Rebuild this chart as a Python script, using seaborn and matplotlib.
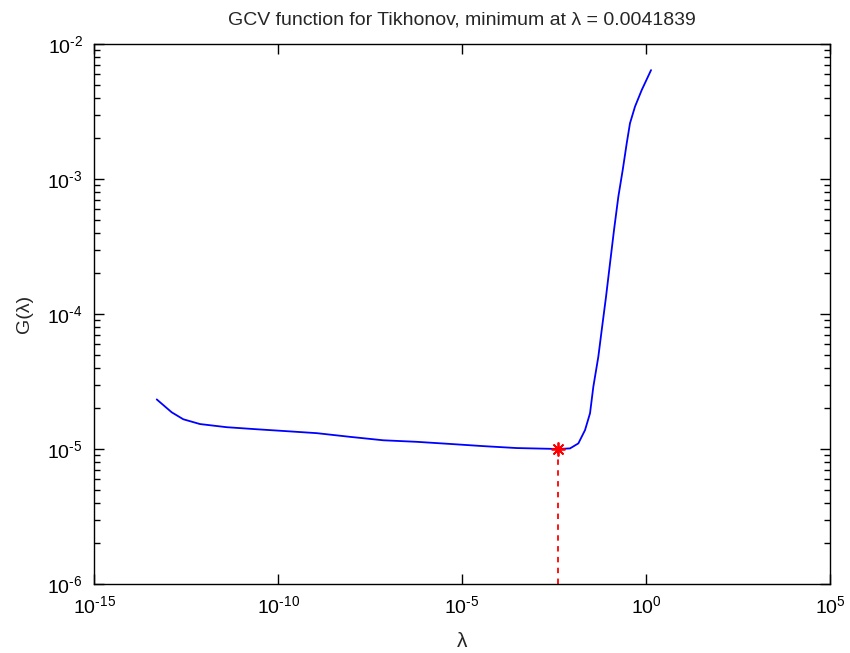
import numpy as np
import pandas as pd
import matplotlib
matplotlib.use("Agg")
import matplotlib.pyplot as plt
import matplotlib.ticker as mticker
import seaborn as sns

# GCV curve samples: regularization parameter and G(lambda)
lambdas = [5.06e-14, 1.29e-13, 2.67e-13, 7.59e-13, 4.04e-12, 2.64e-11, 1.39e-10,
           1.13e-9, 9.06e-9, 7.26e-8, 5.87e-7, 4.72e-6, 3.79e-5, 3.07e-4,
           0.0041839, 8.61e-3, 1.45e-2, 2.20e-2, 3.01e-2, 3.70e-2, 5.06e-2,
           6.25e-2, 8.18e-2, 0.105, 0.135, 0.177, 0.233, 0.299, 0.367, 0.502,
           0.764, 1.37]
gcv_values = [2.33e-5, 1.87e-5, 1.66e-5, 1.53e-5, 1.45e-5, 1.40e-5, 1.36e-5,
              1.31e-5, 1.23e-5, 1.16e-5, 1.13e-5, 1.09e-5, 1.05e-5, 1.016e-5,
              1.0e-5, 1.01e-5, 1.10e-5, 1.38e-5, 1.84e-5, 2.89e-5, 4.83e-5,
              7.60e-5, 1.34e-4, 2.37e-4, 4.19e-4, 7.40e-4, 1.17e-3, 1.84e-3,
              2.59e-3, 3.44e-3, 4.56e-3, 6.41e-3]

lambda_min = 0.0041839
gcv_min = 1.0e-5

x_limits = [1e-15, 1e5]
y_limits = [1e-6, 1e-2]
x_ticks = [1e-15, 1e-10, 1e-5, 1e0, 1e5]
y_ticks = [1e-6, 1e-5, 1e-4, 1e-3, 1e-2]

sns.set_style("white")
plt.rcParams["font.family"] = ["Liberation Sans", "DejaVu Sans"]
plt.rcParams["axes.unicode_minus"] = False
plt.rcParams["mathtext.default"] = "regular"


def power_label(value, _pos):
    exponent = int(round(np.log10(value)))
    text = str(exponent).replace("-", "\u2010")
    return "$\\mathregular{10^{" + text + "}}$"


df = pd.DataFrame({"lambda": lambdas, "G": gcv_values})

fig = plt.figure(figsize=(8.5, 6.53), dpi=100)
ax = fig.add_axes([0.1106, 0.1057, 0.8659, 0.8269])

sns.lineplot(data=df, x="lambda", y="G", ax=ax, color="#0000ff",
             linewidth=1.3, sort=False, estimator=None)

ax.set_xscale("log")
ax.set_yscale("log")
ax.set_xlim(x_limits)
ax.set_ylim(y_limits)

# dashed drop line from the minimum down to the bottom of the axes
ax.plot([lambda_min, lambda_min], [ax.get_ylim()[0], gcv_min],
        linestyle=(0, (3, 3)), color="red", linewidth=1.3)
ax.plot([lambda_min], [gcv_min], marker=(8, 2, 0), markersize=10,
        markeredgewidth=1.3, color="red", linestyle="none")

ax.set_xticks(x_ticks)
ax.set_yticks(y_ticks)
ax.xaxis.set_major_formatter(mticker.FuncFormatter(power_label))
ax.yaxis.set_major_formatter(mticker.FuncFormatter(power_label))
ax.xaxis.set_minor_locator(mticker.NullLocator())
ax.yaxis.set_minor_locator(mticker.LogLocator(base=10, subs=np.arange(2, 10)))
ax.yaxis.set_minor_formatter(mticker.NullFormatter())

ax.tick_params(axis="both", which="both", direction="in", top=True,
               right=True, bottom=True, left=True, colors="black",
               labelsize=14)
ax.tick_params(axis="both", which="major", length=7, width=1)
ax.tick_params(axis="both", which="minor", length=4, width=1)
ax.tick_params(axis="x", which="major", pad=8)
ax.tick_params(axis="y", which="major", pad=8)

for spine in ax.spines.values():
    spine.set_visible(True)
    spine.set_color("black")
    spine.set_linewidth(1.0)

ax.set_xlabel("λ", fontsize=15, labelpad=11)
ax.set_ylabel("G(λ)", fontsize=14, labelpad=10)
ax.set_title("GCV function for Tikhonov, minimum at λ = 0.0041839",
             fontsize=14, pad=14)

fig.savefig("out.png", dpi=100, facecolor="white")
